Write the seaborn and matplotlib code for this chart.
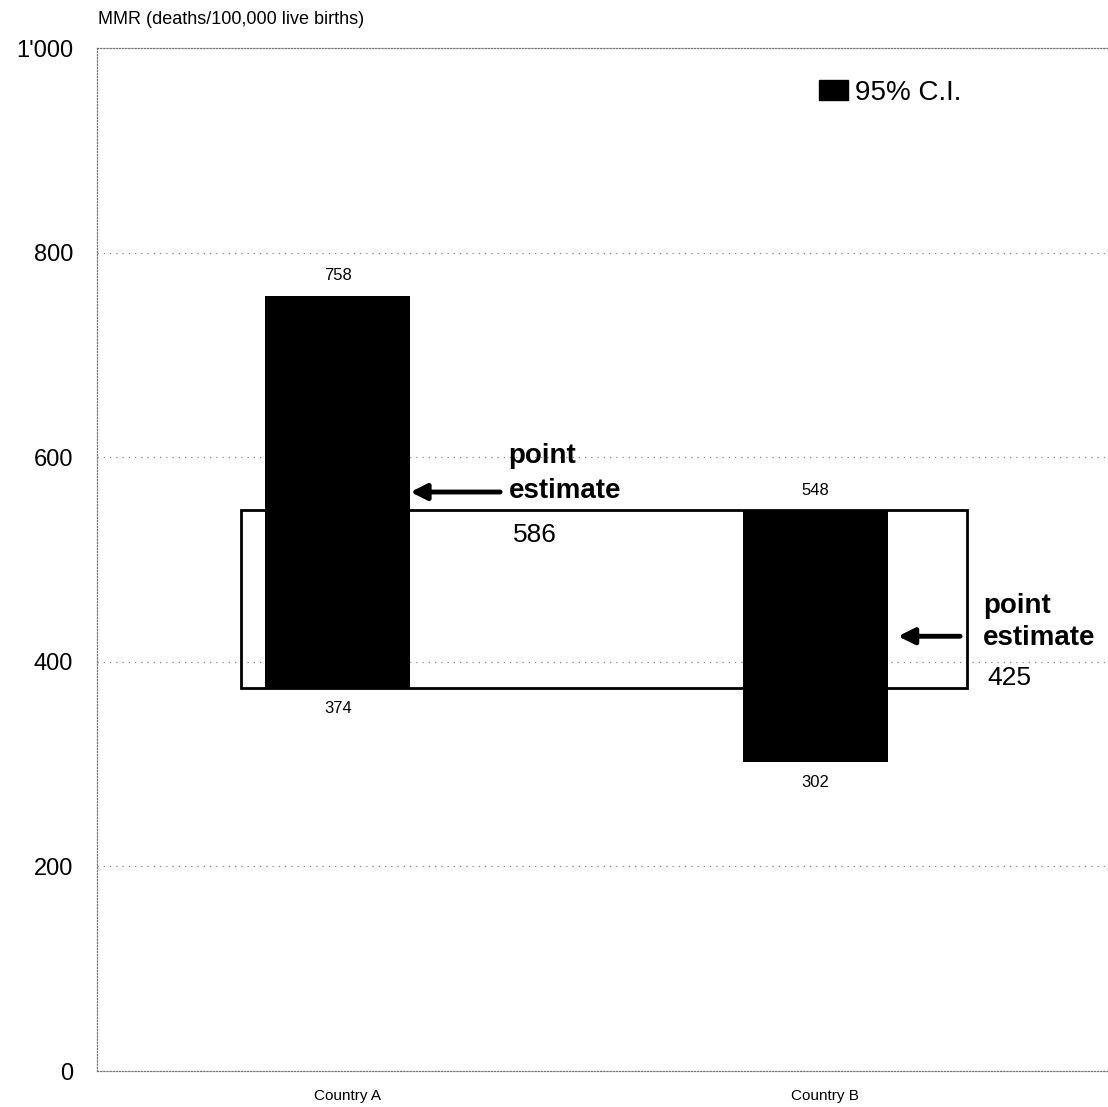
import matplotlib
matplotlib.use("Agg")
import matplotlib.pyplot as plt
import matplotlib.transforms as mtransforms
from matplotlib.patches import Rectangle, Patch
import seaborn as sns
import pandas as pd

# ---- data ----
countries = ["Country A", "Country B"]
ci_low = [374, 302]
ci_high = [758, 548]
point_estimates = [586, 425]
arrow_levels = [566, 425]
y_ticks = [0, 200, 400, 600, 800, 1000]
y_tick_labels = ["0", "200", "400", "600", "800", "1'000"]
y_title = "MMR (deaths/100,000 live births)"
legend_label = "95% C.I."

sns.set_theme(style="white")
plt.rcParams['font.family'] = ['Liberation Sans', 'DejaVu Sans']
plt.rcParams['text.color'] = 'black'
plt.rcParams['xtick.color'] = 'black'
plt.rcParams['ytick.color'] = 'black'

df = pd.DataFrame({"country": countries, "low": ci_low, "high": ci_high})
df["span"] = df["high"] - df["low"]

fig = plt.figure(figsize=(11.08, 11.07), dpi=100)
ax = fig.add_axes([0.0875, 0.0325, 0.9125, 0.9241])

sns.barplot(data=df, x="country", y="span", order=countries, bottom=df["low"].values,
            color="black", saturation=1, width=0.304, errorbar=None,
            edgecolor="black", linewidth=0, zorder=3, ax=ax)

ax.set_xlim(-0.505, 1.614)
ax.set_ylim(0, 1000)

# overlap rectangle between the two intervals
ax.add_patch(Rectangle((-0.203, ci_low[0]), 1.319 + 0.203, ci_high[1] - ci_low[0],
                       fill=False, edgecolor="black", linewidth=2, zorder=2))

# grid & spines
ax.set_axisbelow(True)
ax.yaxis.grid(True, linestyle=(0, (1, 4)), color="#888888", linewidth=0.9)
ax.xaxis.grid(False)
for side in ["left", "top", "bottom"]:
    ax.spines[side].set_visible(True)
    ax.spines[side].set_linestyle((0, (1, 1.5)))
    ax.spines[side].set_color("#777777")
    ax.spines[side].set_linewidth(0.9)
ax.spines["right"].set_visible(False)

ax.set_yticks(y_ticks)
ax.set_yticklabels(y_tick_labels, fontsize=17)
ax.set_xticks([0, 1])
ax.set_xticklabels(countries, fontsize=11)
ax.tick_params(axis="y", length=0, pad=17)
ax.tick_params(axis="x", length=0, pad=13)
for lab in ax.get_xticklabels():
    lab.set_transform(lab.get_transform() + mtransforms.ScaledTranslation(0.10, 0, fig.dpi_scale_trans))
ax.set_xlabel("")
ax.set_ylabel("")

# value labels
for i in range(len(countries)):
    ax.annotate(str(ci_high[i]), xy=(i, ci_high[i]), xytext=(0, 9), textcoords="offset points",
                ha="center", va="bottom", fontsize=12)
    ax.annotate(str(ci_low[i]), xy=(i, ci_low[i]), xytext=(0, -9), textcoords="offset points",
                ha="center", va="top", fontsize=12)

# point estimate annotations
arrow_tips = [0.152, 1.174]
arrow_tails = [0.34, 1.304]
text_x = [0.358, 1.352]
num_x = [0.367, 1.361]
point_dy = [21, 17]
est_dy = [-4, -6]
num_dy = [-36, -35]
for i in range(len(countries)):
    ax.annotate("", xy=(arrow_tips[i], arrow_levels[i]), xytext=(arrow_tails[i], arrow_levels[i]),
                arrowprops=dict(arrowstyle="-|>", lw=3.5, color="black", mutation_scale=24,
                                shrinkA=0, shrinkB=0), zorder=5)
    ax.annotate("point", xy=(text_x[i], arrow_levels[i]), xytext=(0, point_dy[i]), textcoords="offset points",
                ha="left", va="baseline", fontsize=20, fontweight="bold")
    ax.annotate("estimate", xy=(text_x[i], arrow_levels[i]), xytext=(0, est_dy[i]),
                textcoords="offset points", ha="left", va="baseline", fontsize=20, fontweight="bold")
    ax.annotate(str(point_estimates[i]), xy=(num_x[i], arrow_levels[i]),
                xytext=(0, num_dy[i]), textcoords="offset points",
                ha="left", va="baseline", fontsize=19)

# legend
leg = ax.legend(handles=[Patch(facecolor="black", edgecolor="black", label=legend_label)],
                loc="upper left", bbox_to_anchor=(819 / 1108, 1 - 80 / 1107),
                bbox_transform=fig.transFigure, frameon=False, fontsize=20,
                handlelength=1.05, handleheight=0.72, handletextpad=0.25,
                borderpad=0, borderaxespad=0)

fig.text(98 / 1108, 1 - 20 / 1107, y_title, fontsize=13, va="center", ha="left")

fig.savefig("out.png", dpi=100)
